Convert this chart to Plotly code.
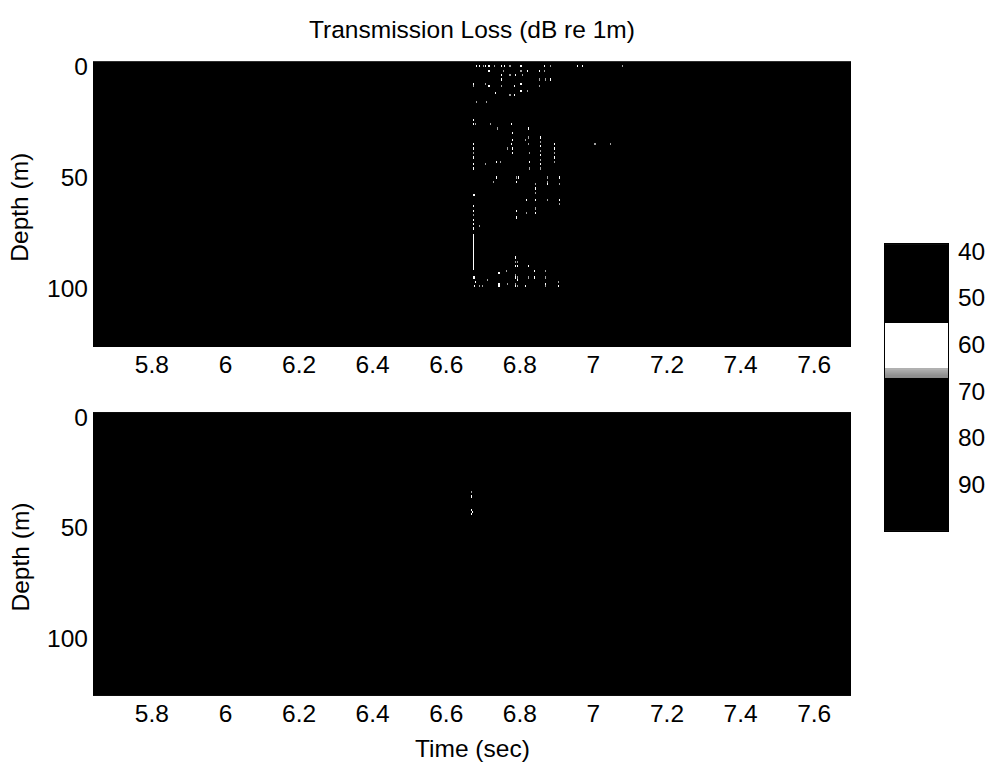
import numpy as np
import plotly.graph_objects as go

# ---- axes / scale definitions -------------------------------------------
time_range = [5.64, 7.70]          # sec
depth_range = [-2.2, 126.2]        # m (0 at top)
tl_range = [38.5, 100.0]           # dB re 1m
time_ticks = [5.8, 6.0, 6.2, 6.4, 6.6, 6.8, 7.0, 7.2, 7.4, 7.6]
time_tick_labels = ["5.8", "6", "6.2", "6.4", "6.6", "6.8", "7", "7.2", "7.4", "7.6"]
depth_ticks = [0, 50, 100]
tl_ticks = [40, 50, 60, 70, 80, 90]

# grid spacing of the loss field
dt = 0.003
dz = 1.0

# level of the field outside the arrival
background_tl = 88.0

# ---- upper panel: scattered arrivals (time, depth, loss) ----------------
speckle_time = [
    6.685, 6.690, 6.701, 6.707, 6.718, 6.731, 6.750, 6.758, 6.775, 6.805, 6.867, 6.886, 6.957, 6.973, 7.079,
    6.718, 6.756, 6.805, 6.821, 6.854, 6.867,
    6.750, 6.775, 6.788, 6.807,
    6.750, 6.854, 6.870, 6.886,
    6.674, 6.707, 6.805,
    6.674, 6.718, 6.750, 6.786, 6.854,
    6.805, 6.821,
    6.734,
    6.775, 6.786,
    6.685, 6.712,
    6.674,
    6.674, 6.682, 6.720, 6.777,
    6.742, 6.826,
    6.780,
    6.826,
    6.816, 6.780,
    6.674, 6.777, 6.826, 6.894, 7.006, 7.047,
    6.674, 6.767, 6.780,
    6.674, 6.780, 6.829,
    6.674,
    6.739, 6.747, 6.829,
    6.709, 6.674,
    6.674, 6.829,
    6.737, 6.791, 6.799, 6.875, 6.908,
    6.728, 6.791, 6.875,
    6.875, 6.908,
    6.674, 6.679,
    6.818, 6.875, 6.908,
    6.908,
    6.791,
    6.818,
    6.791,
    6.690,
    6.824,
    6.764, 6.840, 6.870,
    6.745,
    6.674, 6.679, 6.824, 6.840, 6.870,
    6.715,
    6.682, 6.905,
    6.745, 6.767, 6.870,
    6.679, 6.690, 6.698, 6.745, 6.816, 6.870, 6.905,
    # dotted columns
    6.859, 6.859, 6.859, 6.859, 6.859, 6.859, 6.859, 6.859,
    6.894, 6.894, 6.894, 6.894,
    6.843, 6.843, 6.843, 6.843, 6.843, 6.843,
    6.674, 6.674, 6.674, 6.674, 6.674, 6.674,
    6.788, 6.788, 6.788, 6.788, 6.788, 6.788, 6.788,
    6.796, 6.796, 6.796, 6.796, 6.796,
]
speckle_depth = [
    0, 0, 0, 0, 0, 0, 0, 0, 0, 0, 0, 0, 0, 0, 0,
    2, 2, 2, 2, 2, 2,
    4, 4, 4, 4,
    6, 6, 6, 6,
    8, 8, 8,
    9, 9, 9, 9, 9,
    11, 11,
    12,
    13, 13,
    16, 16,
    24,
    26, 26, 26, 26,
    28, 28,
    30,
    32,
    33, 33,
    35, 35, 35, 35, 35, 35,
    37, 37, 37,
    39, 39, 39,
    41,
    43, 43, 43,
    44, 44,
    46, 46,
    50, 50, 50, 50, 50,
    52, 52, 52,
    53, 53,
    58, 58,
    60, 60, 60,
    62,
    65,
    66,
    68,
    72,
    90,
    92, 92, 92,
    93,
    95, 95, 95, 95, 95,
    96,
    97, 97,
    98, 98, 98,
    99, 99, 99, 99, 99, 99, 99,
    # dotted columns
    32, 34, 36, 38, 40, 42, 44, 46,
    37, 39, 41, 43,
    53, 55, 57, 60, 64, 66,
    63, 65, 67, 69, 71, 73,
    86, 88, 90, 94, 95, 98, 99,
    88, 90, 95, 96, 99,
]
speckle_tl = [
    62, 62, 66, 62, 62, 66, 62, 62, 66, 62, 62, 66, 62, 62, 66,
    62, 66, 66, 62, 62, 66,
    62, 66, 62, 66,
    62, 66, 66, 62,
    62, 66, 62,
    66, 62, 66, 62, 66,
    62, 66,
    62,
    66, 62,
    66, 66,
    62,
    62, 66, 66, 62,
    66, 62,
    62,
    66,
    66, 62,
    62, 62, 66, 62, 66, 66,
    62, 66, 62,
    66, 62, 66,
    62,
    62, 66, 62,
    66, 62,
    62, 66,
    62, 66, 62, 66, 62,
    66, 62, 66,
    62, 66,
    60, 62,
    62, 66, 62,
    66,
    62,
    66,
    62,
    66,
    62,
    66, 62, 66,
    62,
    60, 62, 66, 62, 66,
    66,
    62, 66,
    62, 66, 62,
    62, 66, 66, 62, 62, 66, 62,
    # dotted columns
    62, 66, 62, 66, 62, 66, 62, 66,
    62, 66, 62, 66,
    66, 62, 66, 62, 66, 62,
    62, 62, 66, 62, 62, 60,
    62, 66, 62, 66, 62, 66, 62,
    66, 62, 66, 62, 66,
]

# continuous bright streaks: time, top depth, bottom depth, loss
streak_time = [6.674]
streak_top = [76]
streak_bottom = [91]
streak_tl = [58]

# ---- lower panel: isolated arrival --------------------------------------
lower_time = [6.669, 6.669, 6.669, 6.672, 6.669]
lower_depth = [34, 36, 42, 43, 44]
lower_tl = [66, 62, 58, 60, 62]


# ---- build the gridded fields -------------------------------------------
times = np.round(np.arange(time_range[0], time_range[1] + dt / 2, dt), 4)
depths = np.arange(-2.0, 127.0 + dz / 2, dz)


def blank_field():
    return np.full((len(depths), len(times)), background_tl)


def nearest(arr, v):
    return int(np.argmin(np.abs(arr - v)))


upper = blank_field()
for t, d, v in zip(speckle_time, speckle_depth, speckle_tl):
    upper[nearest(depths, d), nearest(times, t)] = v
for t, d0, d1, v in zip(streak_time, streak_top, streak_bottom, streak_tl):
    i0, i1 = nearest(depths, d0), nearest(depths, d1)
    upper[i0:i1 + 1, nearest(times, t)] = v

lower = blank_field()
for t, d, v in zip(lower_time, lower_depth, lower_tl):
    lower[nearest(depths, d), nearest(times, t)] = v

# strip of loss levels shown in the scale bar
scale_levels = np.arange(tl_range[0], tl_range[1] + 0.125, 0.25)

# ---- colour map: black except a white band around 55-67 dB --------------
def norm(v):
    return (v - tl_range[0]) / (tl_range[1] - tl_range[0])

colorscale = [
    [0.0, "#000000"],
    [norm(55.4), "#000000"],
    [norm(55.5), "#ffffff"],
    [norm(65.0), "#ffffff"],
    [norm(65.05), "#b4b4b4"],
    [norm(67.0), "#8a8a8a"],
    [norm(67.1), "#000000"],
    [1.0, "#000000"],
]

W, H = 990, 764
FONT = "Liberation Sans, Arial, Helvetica, sans-serif"
FS = 24.5


def px_x(p):
    return p / W


def px_y(p):
    return 1 - p / H


fig = go.Figure()
fig.add_trace(go.Heatmap(x=times, y=depths, z=upper, coloraxis="coloraxis",
                         xaxis="x", yaxis="y", hoverinfo="skip"))
fig.add_trace(go.Heatmap(x=times, y=depths, z=lower, coloraxis="coloraxis",
                         xaxis="x2", yaxis="y2", hoverinfo="skip"))
fig.add_trace(go.Heatmap(x=[0], y=scale_levels, z=scale_levels.reshape(-1, 1),
                         coloraxis="coloraxis", xaxis="x3", yaxis="y3",
                         hoverinfo="skip"))

xaxis_common = dict(
    range=time_range, tickvals=time_ticks, ticktext=time_tick_labels,
    ticks="", showgrid=False, zeroline=False, showline=False,
    ticklabelstandoff=1, tickfont=dict(size=FS, color="#000"),
)
yaxis_common = dict(
    range=depth_range[::-1], tickvals=depth_ticks, ticks="",
    showgrid=False, zeroline=False, showline=False,
    ticklabelstandoff=4, tickfont=dict(size=FS, color="#000"),
)

plot_x = [px_x(93), px_x(851)]

fig.update_layout(
    width=W, height=H,
    margin=dict(l=0, r=0, t=0, b=0),
    paper_bgcolor="white", plot_bgcolor="black",
    font=dict(family=FONT, size=FS, color="#000"),
    showlegend=False,
    coloraxis=dict(colorscale=colorscale, cmin=tl_range[0], cmax=tl_range[1],
                   showscale=False),
    xaxis=dict(domain=plot_x, anchor="y", **xaxis_common),
    yaxis=dict(domain=[px_y(342), px_y(53)], anchor="x", **yaxis_common),
    xaxis2=dict(domain=plot_x, anchor="y2", **xaxis_common),
    yaxis2=dict(domain=[px_y(695), px_y(408)], anchor="x2", **yaxis_common),
    xaxis3=dict(domain=[px_x(885), px_x(948)], anchor="y3", range=[-0.5, 0.5],
                showticklabels=False, ticks="", showgrid=False, zeroline=False,
                showline=True, mirror=True, linecolor="#000", linewidth=1),
    yaxis3=dict(domain=[px_y(528), px_y(238)], anchor="x3", side="right",
                range=[tl_range[1], tl_range[0]], tickvals=tl_ticks, ticks="",
                showgrid=False, zeroline=False,
                showline=True, mirror=True, linecolor="#000", linewidth=1,
                ticklabelstandoff=4, tickfont=dict(size=FS, color="#000")),
    annotations=[
        dict(text="Transmission Loss (dB re 1m)", x=px_x(472), y=px_y(21),
             xref="paper", yref="paper", showarrow=False,
             xanchor="center", yanchor="middle", font=dict(size=FS)),
        dict(text="Time (sec)", x=px_x(472), y=px_y(748),
             xref="paper", yref="paper", showarrow=False,
             xanchor="center", yanchor="middle", font=dict(size=FS)),
        dict(text="Depth (m)", x=px_x(20), y=px_y(201), textangle=-90,
             xref="paper", yref="paper", showarrow=False,
             xanchor="center", yanchor="middle", font=dict(size=FS)),
        dict(text="Depth (m)", x=px_x(20), y=px_y(555), textangle=-90,
             xref="paper", yref="paper", showarrow=False,
             xanchor="center", yanchor="middle", font=dict(size=FS)),
    ],
)

fig.write_html("out.html")
